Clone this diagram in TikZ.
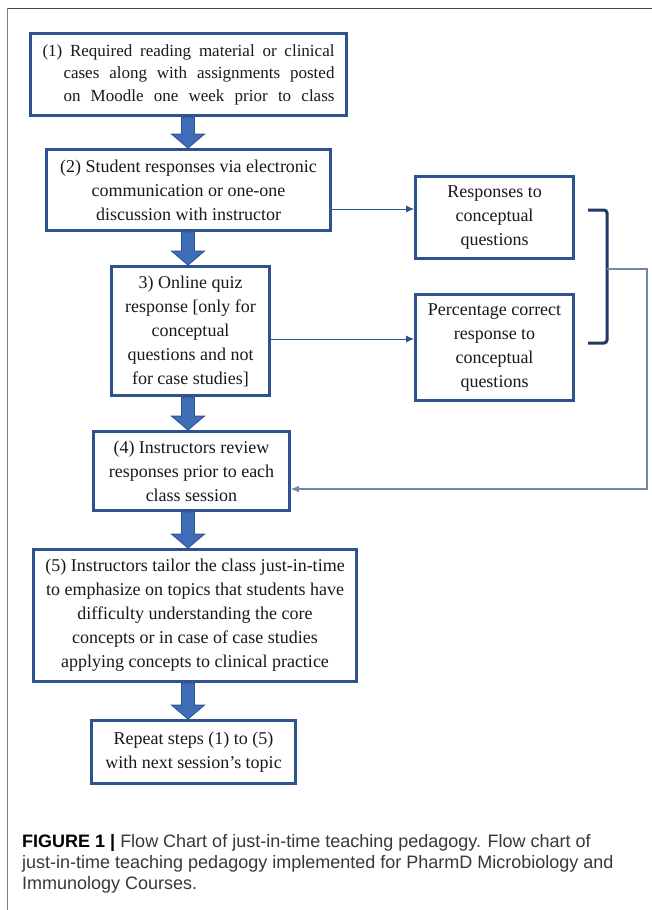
\documentclass[tikz,border=0pt]{standalone}
\usepackage{fontspec}
\setmainfont{Liberation Serif}
\newfontfamily\capfont{Liberation Sans}
\usetikzlibrary{calc,arrows.meta}
\definecolor{boxblue}{HTML}{2E5290}
\definecolor{arrowfill}{HTML}{3F6DB8}
\definecolor{arrowline}{HTML}{2E5290}
\definecolor{connblue}{HTML}{2F528F}
\definecolor{brkblue}{HTML}{1F3864}
\definecolor{loopblue}{HTML}{7388A8}
\definecolor{capgray}{HTML}{383838}
\tikzset{
  box/.style={draw=boxblue, line width=2.8pt, fill=white, inner sep=0pt, align=center,
    text=black!90, font=\fontsize{18pt}{24pt}\selectfont},
  conn/.style={draw=connblue, line width=1pt, -{Latex[length=8pt,width=7pt]}},
  loopline/.style={draw=loopblue, line width=1.3pt, -{Latex[length=8pt,width=7pt]}},
  bracketline/.style={draw=brkblue, line width=3pt, rounded corners=3pt},
  barrow/.style={fill=arrowfill, draw=arrowline, line width=0.8pt, line join=miter},
  captext/.style={anchor=base west, inner sep=0pt, text=capgray, font=\capfont\fontsize{18pt}{21pt}\selectfont}
}
\newcommand\barrow[2]{%
  \filldraw[barrow] ($(#1.south -| ax)+(-6.5,0)$) -- ($(#2.north -| ax)+(-6.5,-14)$)
    -- ($(#2.north -| ax)+(-16.5,-14)$) -- (#2.north -| ax) -- ($(#2.north -| ax)+(16.5,-14)$)
    -- ($(#2.north -| ax)+(6.5,-14)$) -- ($(#1.south -| ax)+(6.5,0)$) -- cycle;}
\begin{document}
\begin{tikzpicture}[x=1pt,y=-1pt]
\useasboundingbox (0,0) rectangle (652,910);
\fill[white] (0,0) rectangle (652,910);
% frame
\draw[draw=black!72, line width=1.6pt] (7.3,8.3) -- (652,8.3);
\draw[draw=black!50, line width=1.4pt] (7.3,8.3) -- (7.3,910);
\coordinate (ax) at (188,0);
% boxes
\node[box, minimum width=316pt, minimum height=82pt] (b1) at (188.5,74.5)
  {\parbox{292pt}{\fontsize{17pt}{22.5pt}\selectfont\hangindent=21pt\hangafter=1\parfillskip=0pt (1) Required reading material or clinical\linebreak cases along with assignments posted\linebreak on Moodle one week prior to class}};
\node[box, minimum width=284pt, minimum height=81pt] (b2) at (188.5,190)
  {(2) Student responses via electronic\\communication or one-one\\discussion with instructor};
\node[box, minimum width=158pt, minimum height=82pt] (r1) at (494.5,217.5)
  {Responses to\\conceptual\\questions};
\node[box, minimum width=158pt, minimum height=129pt] (b3) at (190.5,331)
  {3) Online quiz\\response [only for\\conceptual\\questions and not\\for case studies]};
\node[box, minimum width=158pt, minimum height=106pt] (r2) at (494.5,347.5)
  {Percentage correct\\response to\\conceptual\\questions};
\node[box, minimum width=196pt, minimum height=79pt] (b4) at (191.5,471)
  {(4) Instructors review\\responses prior to each\\class session};
\node[box, minimum width=323pt, minimum height=132pt] (b5) at (195,615.5)
  {(5) Instructors tailor the class just-in-time\\to emphasize on topics that students have\\difficulty understanding the core\\concepts or in case of case studies\\applying concepts to clinical practice};
\node[box, minimum width=204pt, minimum height=63pt] (b6) at (193.5,752)
  {Repeat steps (1) to (5)\\with next session's topic};
% block arrows
\barrow{b1}{b2}
\barrow{b2}{b3}
\barrow{b3}{b4}
\barrow{b4}{b5}
\barrow{b5}{b6}
% thin connectors
\coordinate (ya) at (0,209);
\coordinate (yb) at (0,339);
\coordinate (yc) at (0,489);
\draw[conn] (b2.east |- ya) -- (r1.west |- ya);
\draw[conn] (b3.east |- yb) -- (r2.west |- yb);
% bracket
\coordinate (brkt) at (607,210);
\coordinate (brkb) at (607,343);
\coordinate (brkm) at (607,269);
\coordinate (loopx) at (647,0);
\draw[bracketline] (588,210) -- (brkt) -- (brkb) -- (588,343);
\draw[loopline] (brkm) -- (loopx |- brkm) -- (loopx |- yc) -- (b4.east |- yc);
% caption
\node[captext] (cap1) at (22,847) {{\color{black}\bfseries FIGURE 1 |} Flow Chart of just-in-time teaching pedagogy. Flow chart of};
\node[captext] (cap2) at (22,868) {just-in-time teaching pedagogy implemented for PharmD Microbiology and};
\node[captext] (cap3) at (22,889) {Immunology Courses.};
\end{tikzpicture}
\end{document}
